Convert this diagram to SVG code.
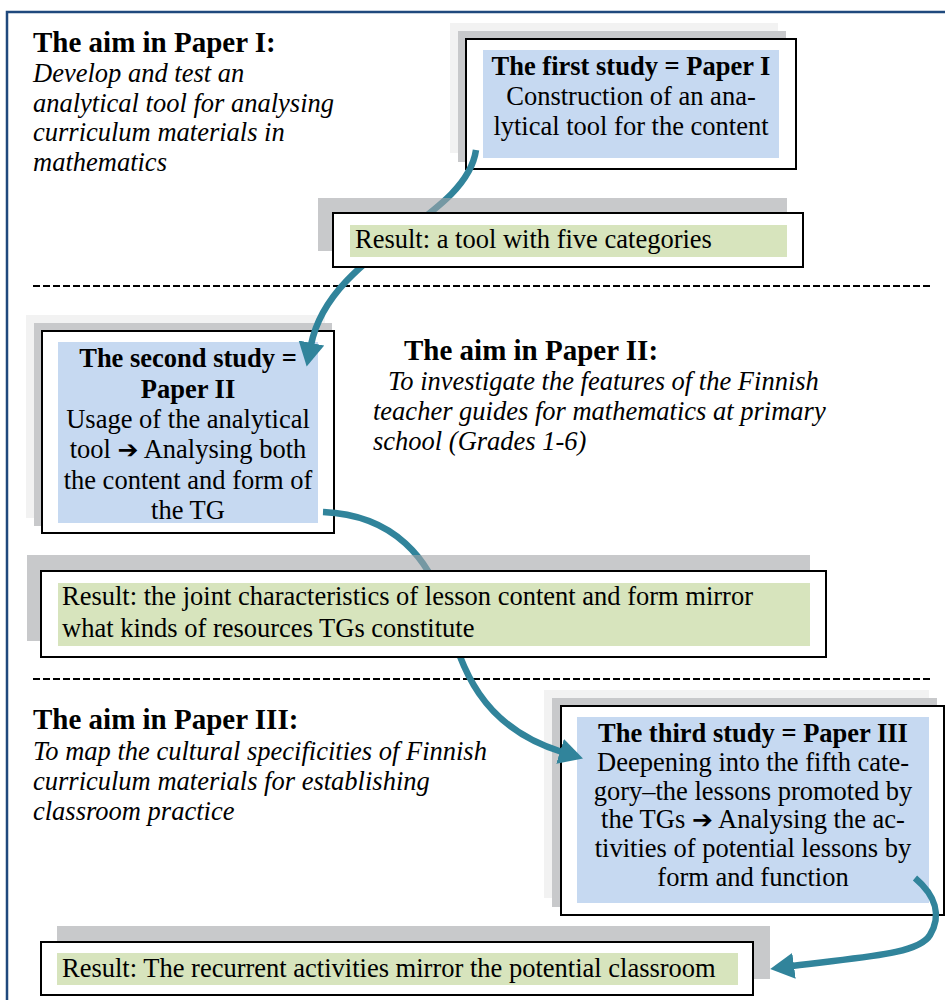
<svg xmlns="http://www.w3.org/2000/svg" width="945" height="1000" viewBox="0 0 945 1000">
<defs>
<style>
text{font-family:"Liberation Serif","Times New Roman",serif;fill:#000;}
.t{font-size:26.5px;}
.h{font-size:29px;font-weight:bold;}
.b{font-weight:bold;}
.i{font-size:26.5px;font-style:italic;}
.c{text-anchor:middle;}
.sh1{fill:#F2F2F2;}
.sh2{fill:#C8C9CB;}
.sh3{fill:#A3A5A8;fill-opacity:0.6;}
.fr{fill:#FFFFFF;stroke:#000;stroke-width:2;}
.blue{fill:#C6D9F1;}
.green{fill:#D7E4BD;}
.dash{stroke:#000;stroke-width:2;stroke-dasharray:7 3;}
.arr{fill:none;stroke:#31849B;stroke-width:6.5;marker-end:url(#ah);}
.sym{font-family:"DejaVu Sans",sans-serif;font-weight:bold;font-size:25px;}
</style>
<marker id="ah" viewBox="0 0 24 26" markerUnits="userSpaceOnUse" markerWidth="24" markerHeight="26" refX="2" refY="13" orient="auto">
<path d="M0,0 L24,13 L0,26 Z" fill="#31849B"/>
</marker>
</defs>
<rect width="945" height="1000" fill="#FFFFFF"/>
<rect x="7" y="12" width="960" height="1010" fill="none" stroke="#1F497D" stroke-width="2.5"/>

<g id="aim1">
<text class="h" x="33" y="52">The aim in Paper I:</text>
<text class="i" x="33" y="82">Develop and test an</text>
<text class="i" x="33" y="112">analytical tool for analysing</text>
<text class="i" x="33" y="141">curriculum materials in</text>
<text class="i" x="33" y="171">mathematics</text>
</g>

<g id="study1">
<rect class="sh1" x="450" y="23" width="328" height="130"/>
<rect class="sh2" x="458" y="31" width="328" height="131"/>
<rect class="fr" x="466" y="39" width="330" height="130"/>
<rect class="blue" x="483" y="50" width="296" height="108"/>
<text class="t c b" x="631" y="75">The first study = Paper I</text>
<text class="t c" x="631" y="105">Construction of an ana-</text>
<text class="t c" x="631" y="135">lytical tool for the content</text>
</g>

<g id="dividers">
<line class="dash" x1="33" y1="286" x2="930" y2="286"/>
<line class="dash" x1="33" y1="679" x2="930" y2="679"/>
</g>

<g id="study2">
<rect class="sh1" x="26" y="315" width="299" height="203"/>
<rect class="sh2" x="34" y="323" width="298" height="203"/>
<rect class="fr" x="42" y="331" width="292" height="202"/>
<rect class="blue" x="58" y="342" width="260" height="181"/>
<text class="t c b" x="188" y="367">The second study =</text>
<text class="t c b" x="188" y="397.5">Paper II</text>
<text class="t c" x="188" y="428">Usage of the analytical</text>
<text class="t c" x="188" y="458">tool <tspan class="sym">➔</tspan> Analysing both</text>
<text class="t c" x="188" y="488.5">the content and form of</text>
<text class="t c" x="188" y="519">the TG</text>
</g>

<g id="aim2">
<text class="h" x="404" y="360">The aim in Paper II:</text>
<text class="i" x="388" y="390">To investigate the features of the Finnish</text>
<text class="i" x="373" y="420">teacher guides for mathematics at primary</text>
<text class="i" x="373" y="450">school (Grades 1-6)</text>
</g>

<g id="aim3">
<text class="h" x="33" y="729">The aim in Paper III:</text>
<text class="i" x="33" y="760">To map the cultural specificities of Finnish</text>
<text class="i" x="33" y="790">curriculum materials for establishing</text>
<text class="i" x="33" y="820">classroom practice</text>
</g>

<g id="study3">
<rect class="sh1" x="544" y="690" width="385" height="208"/>
<rect class="sh2" x="552" y="698" width="385" height="209"/>
<rect class="fr" x="561" y="706" width="383" height="209"/>
<rect class="blue" x="577" y="717" width="352" height="186"/>
<text class="t c b" x="753" y="742">The third study = Paper III</text>
<text class="t c" x="753" y="771">Deepening into the fifth cate-</text>
<text class="t c" x="753" y="799.5">gory–the lessons promoted by</text>
<text class="t c" x="753" y="828">the TGs <tspan class="sym">➔</tspan> Analysing the ac-</text>
<text class="t c" x="753" y="857">tivities of potential lessons by</text>
<text class="t c" x="753" y="886">form and function</text>
</g>

<g id="connectors">
<path class="arr" d="M476,150 C466,220 330,250 311,345"/>
<path class="arr" d="M323,512 C395,515 430,560 445,610 S475,725 562,752"/>
<path class="arr" d="M915,878 C935,895 942,915 930,935 S860,957 792,966"/>
</g>

<g id="result1">
<rect class="sh3" x="318" y="198" width="469" height="53"/>
<rect class="fr" x="333" y="213" width="470" height="54"/>
<rect class="green" x="350" y="225" width="437" height="32"/>
<text class="t" x="355" y="248">Result: a tool with five categories</text>
</g>

<g id="result2">
<rect class="sh3" x="27" y="555" width="783" height="86"/>
<rect class="fr" x="41" y="571" width="785" height="86"/>
<rect class="green" x="58" y="583" width="752" height="63"/>
<text class="t" x="62" y="605">Result: the joint characteristics of lesson content and form mirror</text>
<text class="t" x="62" y="637">what kinds of resources TGs constitute</text>
</g>

<g id="result3">
<rect class="sh3" x="57" y="926" width="713" height="53"/>
<rect class="fr" x="41" y="942" width="712" height="53"/>
<rect class="green" x="57" y="953" width="681" height="32"/>
<text class="t" x="62" y="977">Result: The recurrent activities mirror the potential classroom</text>
</g>
</svg>
